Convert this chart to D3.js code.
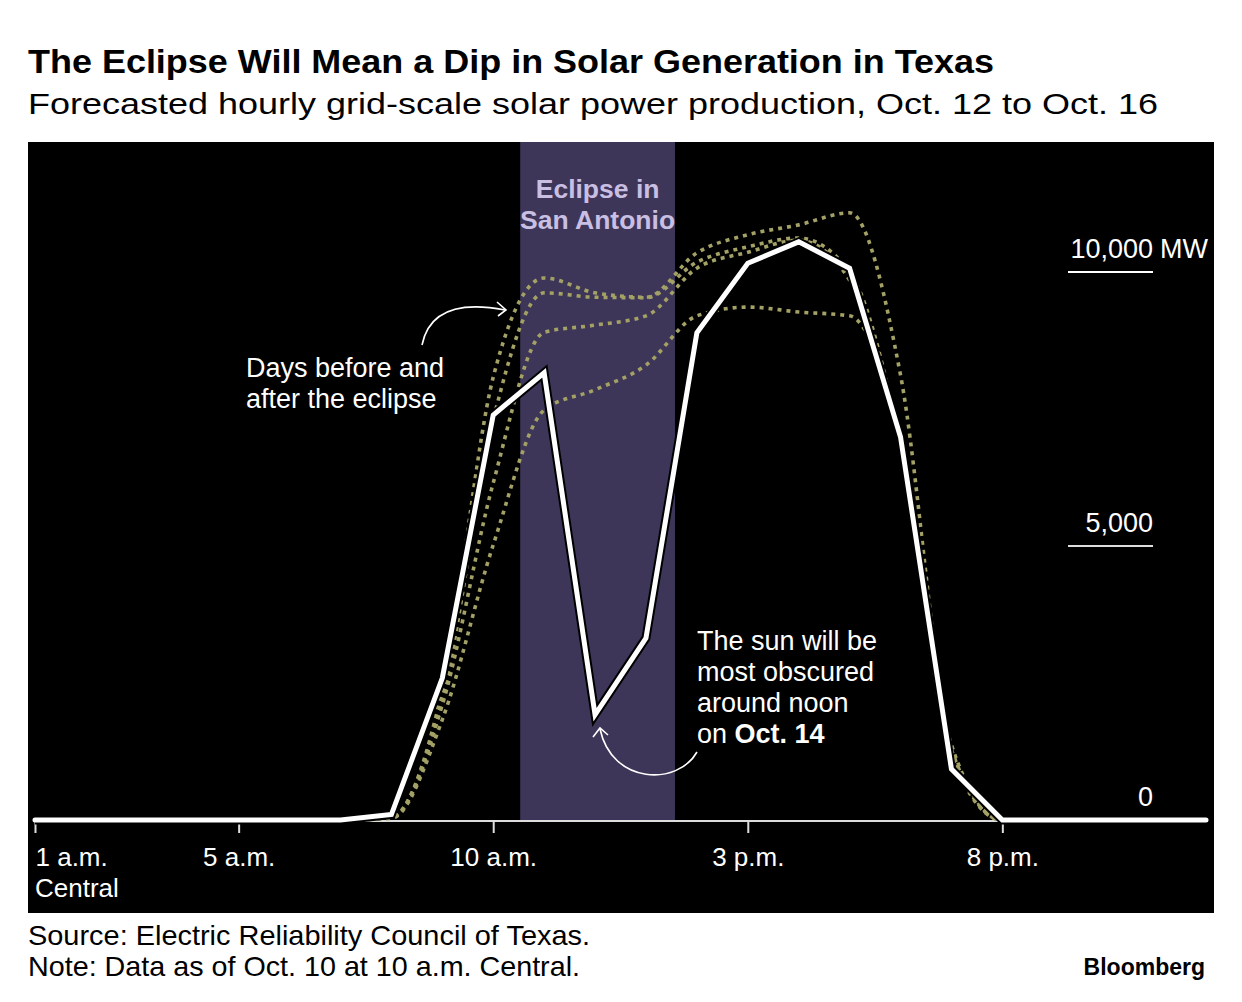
<!DOCTYPE html>
<html>
<head>
<meta charset="utf-8">
<script src="https://cdn.jsdelivr.net/npm/d3@7"></script>
<style>
  html, body { margin: 0; padding: 0; background: #fff; }
  svg { display: block; font-family: "Liberation Sans", Arial, sans-serif; }
</style>
</head>
<body>
<svg id="chart" width="1242" height="1002"></svg>
<script>
// ---------- data ----------
const hours = d3.range(1, 25); // 1 a.m. ... midnight
const oct14 = [0,0,0,0,0,0,0,100,2590,7390,8160,1920,3320,8890,10160,10550,10070,6990,930,0,0,0,0,0];
const dayA  = [0,0,0,0,0,0,0,50,2370,8080,9890,9620,9540,10350,10680,10860,11080,8120,1370,0,0,0,0,0];
const dayB  = [0,0,0,0,0,0,0,50,2190,7300,9620,9540,9530,10180,10460,10620,10000,6840,1180,0,0,0,0,0];
const dayC  = [0,0,0,0,0,0,0,40,2100,6150,8900,9030,9200,10070,10360,10580,9850,6900,1280,0,0,0,0,0];
const dayD  = [0,0,0,0,0,0,0,30,1830,5020,7480,7850,8300,9200,9360,9270,9200,6930,1270,0,0,0,0,0];
const otherDays = [dayA, dayB, dayC, dayD];
const xTickHours = [1, 5, 10, 15, 20];
const xTickLabels = ["1 a.m.", "5 a.m.", "10 a.m.", "3 p.m.", "8 p.m."];
const yTicks = [10000, 5000, 0];
const yTickLabels = ["10,000", "5,000", "0"];
const eclipseStart = 10.53, eclipseEnd = 13.57;

// ---------- setup ----------
const svg = d3.select("#chart");
const panel = {x: 28, y: 142, w: 1186, h: 771};
const x = d3.scaleLinear().domain([1, 24]).range([35, 1206]);
const y = d3.scaleLinear().domain([0, 10000]).range([820, 272]);

// titles
svg.append("text").attr("x", 28).attr("y", 73)
  .attr("font-size", 34).attr("font-weight", "bold").attr("fill", "#000")
  .attr("textLength", 966).attr("lengthAdjust", "spacingAndGlyphs")
  .text("The Eclipse Will Mean a Dip in Solar Generation in Texas");
svg.append("text").attr("x", 28).attr("y", 114)
  .attr("font-size", 30).attr("fill", "#000")
  .attr("textLength", 1130).attr("lengthAdjust", "spacingAndGlyphs")
  .text("Forecasted hourly grid-scale solar power production, Oct. 12 to Oct. 16");

// panel
svg.append("rect").attr("x", panel.x).attr("y", panel.y).attr("width", panel.w).attr("height", panel.h).attr("fill", "#000");

// eclipse band
svg.append("rect")
  .attr("x", x(eclipseStart)).attr("y", panel.y)
  .attr("width", x(eclipseEnd) - x(eclipseStart)).attr("height", y(0) - panel.y)
  .attr("fill", "#3e3658");
const bandMid = (x(eclipseStart) + x(eclipseEnd)) / 2;
svg.append("text").attr("x", bandMid).attr("y", 198).attr("text-anchor", "middle")
  .attr("font-size", 26.5).attr("font-weight", "bold").attr("fill", "#c9bfe3").text("Eclipse in");
svg.append("text").attr("x", bandMid).attr("y", 229).attr("text-anchor", "middle")
  .attr("font-size", 26.5).attr("font-weight", "bold").attr("fill", "#c9bfe3").text("San Antonio");

// y ticks
yTicks.forEach((v, i) => {
  if (v !== 0) {
    svg.append("line").attr("x1", 1068).attr("x2", 1153).attr("y1", y(v)).attr("y2", y(v))
      .attr("stroke", i === 0 ? "#fff" : "#ddd").attr("stroke-width", 2);
  }
  svg.append("text").attr("x", 1153).attr("y", y(v) - 14).attr("text-anchor", "end")
    .attr("font-size", 27).attr("fill", "#fff").text(yTickLabels[i]);
  if (i === 0) {
    svg.append("text").attr("x", 1160).attr("y", y(v) - 14)
      .attr("font-size", 27).attr("fill", "#fff").text("MW");
  }
});

// x axis
const xAxis = d3.axisBottom(x).tickValues(xTickHours).tickSize(12).tickFormat((d, i) => xTickLabels[i]);
const gx = svg.append("g").attr("transform", `translate(0,${y(0) + 1})`).call(xAxis);
gx.select(".domain").attr("stroke", "#ddd").attr("stroke-width", 2).attr("d", `M${x(1)},0H${x(24) + 2}`);
gx.selectAll(".tick line").attr("stroke", "#ddd").attr("stroke-width", 2);
gx.selectAll(".tick text").attr("fill", "#fff").attr("font-size", 26)
  .attr("font-family", "Liberation Sans, Arial, sans-serif").attr("dy", 0).attr("y", 45);
gx.selectAll(".tick text").filter((d, i) => i === 0).attr("text-anchor", "start");
svg.append("text").attr("x", x(1)).attr("y", 897).attr("font-size", 26).attr("fill", "#fff").text("Central");

// lines
const line = d3.line().x((d, i) => x(hours[i])).y(d => y(d));
const curvyLine = d3.line().x((d, i) => x(hours[i])).y(d => y(d)).curve(d3.curveMonotoneX);
svg.append("g").selectAll("path").data(otherDays).join("path")
  .attr("d", d => curvyLine(d))
  .attr("fill", "none").attr("stroke", "#a3a165").attr("stroke-width", 3.6)
  .attr("stroke-dasharray", "4,5");

svg.append("path").attr("d", line(oct14)).attr("fill", "none")
  .attr("stroke", "#000").attr("stroke-width", 9).attr("stroke-linejoin", "miter");
svg.append("path").attr("d", line(oct14)).attr("fill", "none")
  .attr("stroke", "#fff").attr("stroke-width", 5).attr("stroke-linejoin", "miter").attr("stroke-linecap", "round");

// annotations
const ann1 = svg.append("text").attr("font-size", 27).attr("fill", "#fff");
ann1.append("tspan").attr("x", 246).attr("y", 377).text("Days before and");
ann1.append("tspan").attr("x", 246).attr("y", 408).text("after the eclipse");
svg.append("path").attr("d", "M422,345 Q432,296 505,310").attr("fill", "none").attr("stroke", "#fff").attr("stroke-width", 1.6);
svg.append("path").attr("d", "M497,302 L506,310 L498,316").attr("fill", "none").attr("stroke", "#fff").attr("stroke-width", 1.6);

const ann2 = svg.append("text").attr("font-size", 27).attr("fill", "#fff");
ann2.append("tspan").attr("x", 697).attr("y", 650).text("The sun will be");
ann2.append("tspan").attr("x", 697).attr("y", 681).text("most obscured");
ann2.append("tspan").attr("x", 697).attr("y", 712).text("around noon");
ann2.append("tspan").attr("x", 697).attr("y", 743).text("on ");
ann2.append("tspan").attr("font-weight", "bold").text("Oct. 14");
svg.append("path").attr("d", "M697,752 C678,786 612,785 600,729").attr("fill", "none").attr("stroke", "#fff").attr("stroke-width", 1.6);
svg.append("path").attr("d", "M593,737 L600,728 L608,735").attr("fill", "none").attr("stroke", "#fff").attr("stroke-width", 1.6);

// footer
svg.append("text").attr("x", 28).attr("y", 945).attr("font-size", 28).attr("fill", "#000")
  .attr("textLength", 562).attr("lengthAdjust", "spacingAndGlyphs")
  .text("Source: Electric Reliability Council of Texas.");
svg.append("text").attr("x", 28).attr("y", 976).attr("font-size", 28).attr("fill", "#000")
  .attr("textLength", 552).attr("lengthAdjust", "spacingAndGlyphs")
  .text("Note: Data as of Oct. 10 at 10 a.m. Central.");
svg.append("text").attr("x", 1205).attr("y", 975).attr("text-anchor", "end")
  .attr("font-size", 23).attr("font-weight", "bold").attr("fill", "#000").text("Bloomberg");
</script>
</body>
</html>
